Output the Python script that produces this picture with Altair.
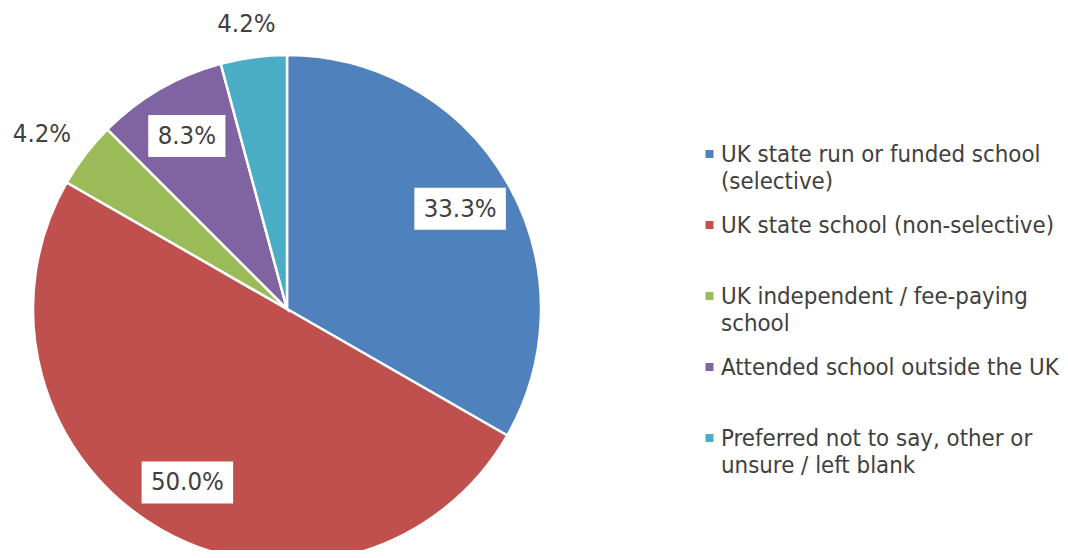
import altair as alt
import pandas as pd

categories = [
    "UK state run or funded school (selective)",
    "UK state school (non-selective)",
    "UK independent / fee-paying school",
    "Attended school outside the UK",
    "Preferred not to say, other or unsure / left blank",
]
legend_labels = [
    "UK state run or funded school\n(selective)",
    "UK state school (non-selective)",
    "UK independent / fee-paying\nschool",
    "Attended school outside the UK",
    "Preferred not to say, other or\nunsure / left blank",
]
percentages = [33.3, 50.0, 4.2, 8.3, 4.2]
colors = ["#4F81BD", "#C0504D", "#9BBB59", "#8064A2", "#4BACC6"]

FONT = "DejaVu Sans Condensed, DejaVu Sans"
TXT = "#404040"
CX, CY, R = 279, 301, 254

df = pd.DataFrame({
    "idx": list(range(len(categories))),
    "cat": categories,
    "legend": legend_labels,
    "pct": percentages,
})

base = alt.Chart(df)
color_scale = alt.Scale(domain=categories, range=colors)

pie = base.mark_arc(stroke="white", strokeWidth=2.5, radius=R).encode(
    theta=alt.Theta("pct:Q", stack=True),
    color=alt.Color("cat:N", scale=color_scale, legend=None),
    order=alt.Order("idx:Q"),
    x=alt.value(CX),
    y=alt.value(CY),
)

lab = base.transform_joinaggregate(
    total="sum(pct)"
).transform_window(
    cum="sum(pct)", sort=[alt.SortField("idx")], frame=[None, 0]
).transform_calculate(
    mid="(datum.cum - datum.pct/2)/datum.total*2*PI",
    inside="datum.pct >= 5",
    txt="format(datum.pct, '.1f') + '%'",
).transform_calculate(
    tw="length(datum.txt)*14.3",
    lr="datum.inside ? 200 : 280",
).transform_calculate(
    lx=f"{CX} + datum.lr*sin(datum.mid) + (datum.inside ? 0 : datum.tw/2*sin(datum.mid))",
    ly=f"{CY} - datum.lr*cos(datum.mid) - (datum.inside ? 0 : 8*cos(datum.mid))",
).transform_calculate(
    bx1="datum.lx - datum.tw/2 - 10",
    bx2="datum.lx + datum.tw/2 + 10",
    by1="datum.ly - 21",
    by2="datum.ly + 21",
)

boxes = lab.transform_filter("datum.inside").mark_rect(color="white").encode(
    x=alt.X("bx1:Q", scale=None),
    x2="bx2:Q",
    y=alt.Y("by1:Q", scale=None),
    y2="by2:Q",
)

texts = lab.mark_text(font=FONT, fontSize=25.5, color=TXT, align="center", baseline="middle").encode(
    x=alt.X("lx:Q", scale=None),
    y=alt.Y("ly:Q", scale=None),
    text="txt:N",
)

leg = base.transform_calculate(
    ty="154 + datum.idx*71",
    sy="146 + datum.idx*71",
)

leg_sq = leg.mark_square(size=64, opacity=1).encode(
    x=alt.value(701.5),
    y=alt.Y("sy:Q", scale=None),
    color=alt.Color("cat:N", scale=color_scale, legend=None),
)

leg_txt = leg.mark_text(font=FONT, fontSize=23.8, color=TXT, align="left", baseline="alphabetic",
                        lineBreak="\n", lineHeight=27).encode(
    x=alt.value(713),
    y=alt.Y("ty:Q", scale=None),
    text="legend:N",
)

chart = alt.layer(pie, boxes, texts, leg_sq, leg_txt).properties(
    width=1052, height=542,
    autosize=alt.AutoSizeParams(type="none"),
    padding=0,
    background="white",
).configure_view(stroke=None)

chart.save("out.html", embed_options={"renderer": "svg", "actions": False})
